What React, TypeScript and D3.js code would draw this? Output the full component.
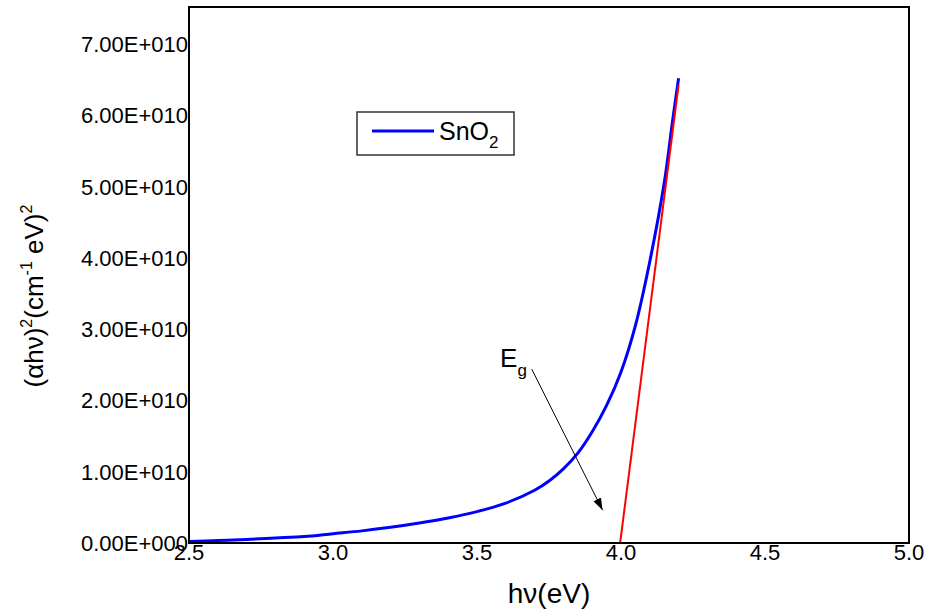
import React, { useEffect, useRef } from "react";
import * as d3 from "d3";

const hv = [2.5, 2.6, 2.7, 2.8, 2.9, 3.0, 3.1, 3.2, 3.3, 3.4, 3.5, 3.6, 3.7, 3.75, 3.8, 3.85, 3.9, 3.95, 4.0, 4.05, 4.1, 4.15, 4.18, 4.2];
const absorb = [0.02, 0.035, 0.05, 0.07, 0.09, 0.13, 0.17, 0.22, 0.28, 0.35, 0.44, 0.56, 0.74, 0.87, 1.04, 1.26, 1.56, 1.93, 2.4, 3.05, 3.95, 5.05, 5.95, 6.52].map((v) => v * 1e10);
const fitX = [3.997, 4.2];
const fitY = [0, 6.43e10];
const xTicks = [2.5, 3.0, 3.5, 4.0, 4.5, 5.0];
const xTickLabels = ["2.5", "3.0", "3.5", "4.0", "4.5", "5.0"];
const yTicks = [0, 1e10, 2e10, 3e10, 4e10, 5e10, 6e10, 7e10];
const yTickLabels = ["0.00E+000", "1.00E+010", "2.00E+010", "3.00E+010", "4.00E+010", "5.00E+010", "6.00E+010", "7.00E+010"];
const arrowFrom = [3.69, 2.44e10];
const arrowTo = [3.936, 0.46e10];
const egPos = [3.58, 2.47e10];

const W = 925, H = 609;
const L = 189, R = 909, T = 7, B = 543;

export default function App() {
  const ref = useRef<SVGSVGElement>(null);
  useEffect(() => {
    const svg = d3.select(ref.current);
    svg.selectAll("*").remove();
    const x = d3.scaleLinear().domain([2.5, 5.0]).range([L, R]);
    const y = d3.scaleLinear().domain([0, 7.52e10]).range([B, T]);
    const font = "'Liberation Sans', Arial, sans-serif";

    const defs = svg.append("defs");
    defs.append("marker").attr("id", "ah").attr("viewBox", "0 0 10 10").attr("refX", 10).attr("refY", 5)
      .attr("markerWidth", 12).attr("markerHeight", 12).attr("markerUnits", "userSpaceOnUse").attr("orient", "auto")
      .append("path").attr("d", "M0,1.5 L10,5 L0,8.5 Z").attr("fill", "#000");
    defs.append("clipPath").attr("id", "clip").append("rect").attr("x", L).attr("y", T).attr("width", R - L).attr("height", B - T);

    const g = svg.append("g").attr("clip-path", "url(#clip)");
    const line = d3.line<number>().x((_, i) => x(hv[i])).y((d) => y(d)).curve(d3.curveCatmullRom.alpha(0.5));
    g.append("path").attr("d", line(absorb)).attr("fill", "none").attr("stroke", "#0000ff").attr("stroke-width", 3);
    const fit = d3.line<number>().x((_, i) => x(fitX[i])).y((d) => y(d));
    g.append("path").attr("d", fit(fitY)).attr("fill", "none").attr("stroke", "#ff0000").attr("stroke-width", 2);

    // frame
    svg.append("rect").attr("x", L).attr("y", T).attr("width", R - L).attr("height", B - T)
      .attr("fill", "none").attr("stroke", "#000").attr("stroke-width", 2);

    // tick labels
    svg.append("g").selectAll("text").data(yTicks).join("text")
      .attr("x", L - 1).attr("y", (d) => y(d)).attr("dy", "0.36em").attr("text-anchor", "end")
      .attr("font-family", font).attr("font-size", 22).text((_, i) => yTickLabels[i]);
    svg.append("g").selectAll("text").data(xTicks).join("text")
      .attr("x", (d) => x(d)).attr("y", 560).attr("text-anchor", "middle")
      .attr("font-family", font).attr("font-size", 22).text((_, i) => xTickLabels[i]);

    // axis titles
    svg.append("text").attr("x", 549).attr("y", 603).attr("text-anchor", "middle")
      .attr("font-family", font).attr("font-size", 28).text("hν(eV)");
    const yt = svg.append("text").attr("transform", `translate(43,296) rotate(-90)`).attr("text-anchor", "middle")
      .attr("font-family", font).attr("font-size", 26);
    yt.append("tspan").text("(αhν)");
    yt.append("tspan").attr("dy", -11).attr("font-size", 16).text("2");
    yt.append("tspan").attr("dy", 11).text("(cm");
    yt.append("tspan").attr("dy", -11).attr("font-size", 16).text("-1");
    yt.append("tspan").attr("dy", 11).text(" eV)");
    yt.append("tspan").attr("dy", -11).attr("font-size", 16).text("2");

    // legend
    svg.append("rect").attr("x", 357).attr("y", 112).attr("width", 157).attr("height", 43)
      .attr("fill", "#fff").attr("stroke", "#333").attr("stroke-width", 1.5);
    svg.append("line").attr("x1", 372).attr("x2", 434).attr("y1", 131).attr("y2", 131)
      .attr("stroke", "#0000ff").attr("stroke-width", 3);
    const lt = svg.append("text").attr("x", 439).attr("y", 140).attr("font-family", font).attr("font-size", 25);
    lt.append("tspan").text("SnO");
    lt.append("tspan").attr("dy", 8).attr("font-size", 17).text("2");

    // Eg annotation
    const et = svg.append("text").attr("x", x(egPos[0])).attr("y", y(egPos[1])).attr("font-family", font).attr("font-size", 26);
    et.append("tspan").text("E");
    et.append("tspan").attr("dy", 9).attr("font-size", 17).text("g");
    svg.append("line").attr("x1", x(arrowFrom[0])).attr("y1", y(arrowFrom[1])).attr("x2", x(arrowTo[0])).attr("y2", y(arrowTo[1]))
      .attr("stroke", "#000").attr("stroke-width", 1).attr("marker-end", "url(#ah)");
  }, []);
  return (
    <svg ref={ref} width={W} height={H} style={{ position: "absolute", left: 0, top: 0, background: "#fff" }} />
  );
}
